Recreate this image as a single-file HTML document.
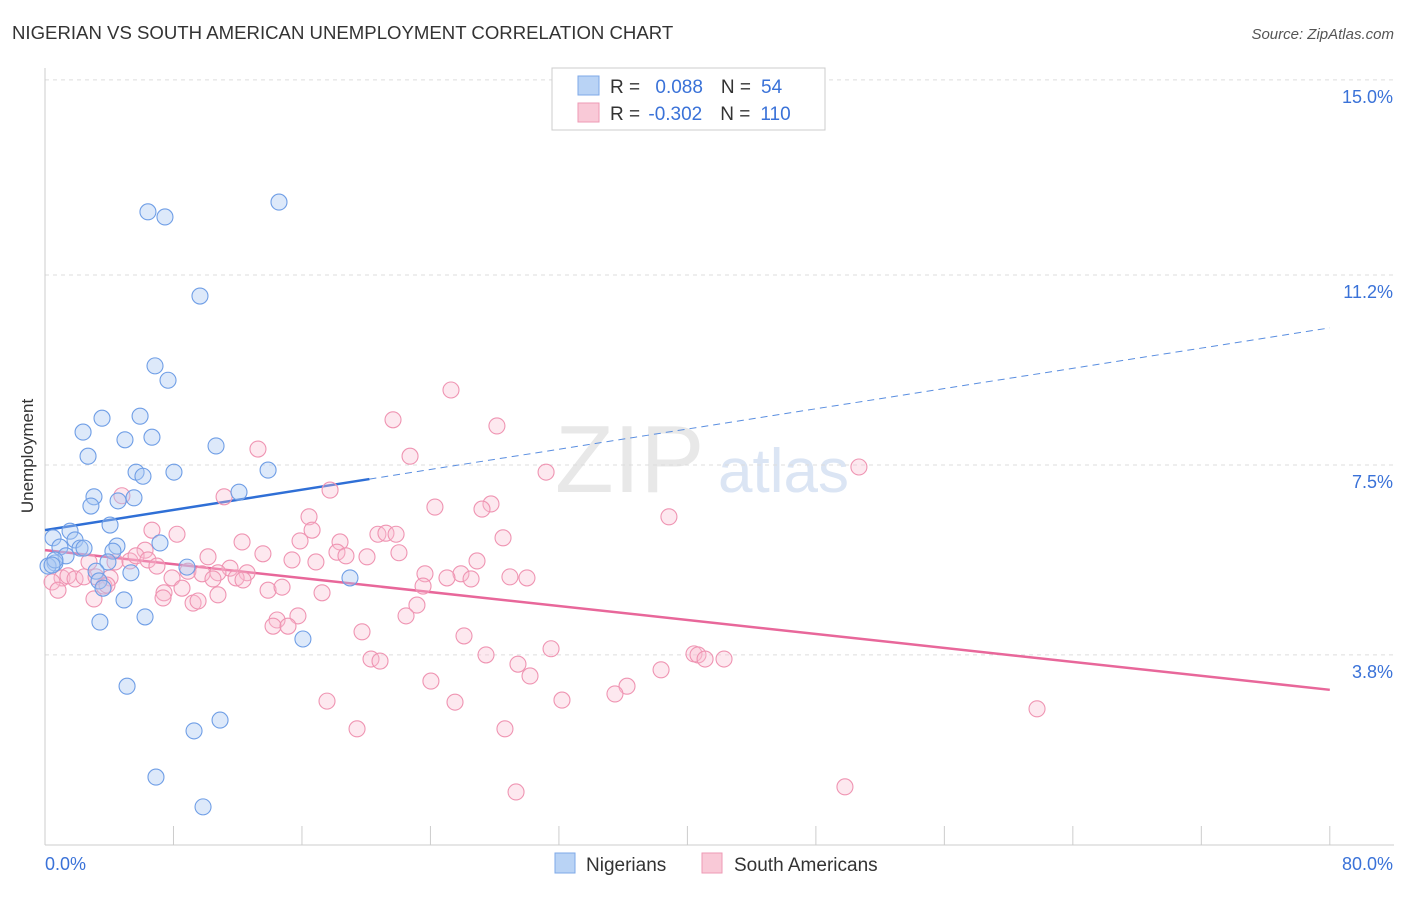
<!DOCTYPE html>
<html><head><meta charset="utf-8"><style>
body{margin:0;background:#fff;font-family:"Liberation Sans",sans-serif;}
svg text{font-family:"Liberation Sans",sans-serif;}
</style></head><body>
<svg id="chart" width="1406" height="892">
<text x="12" y="39" font-size="18.6" fill="#333">NIGERIAN VS SOUTH AMERICAN UNEMPLOYMENT CORRELATION CHART</text>
<text x="1394" y="39" font-size="15" fill="#555" font-style="italic" text-anchor="end">Source: ZipAtlas.com</text>
<text transform="translate(33,456) rotate(-90)" font-size="17" fill="#333" text-anchor="middle">Unemployment</text>
<g><text x="555" y="492" font-size="96" fill="#e8e8e8" font-family="Liberation Serif,serif">ZIP</text><text x="718" y="492" font-size="62" fill="#dbe5f4">atlas</text></g>
<g id="grid"></g><g id="axes"></g><g id="trends"></g><g id="pts"></g>
<g>
<rect x="552" y="68" width="273" height="62" fill="#fff" stroke="#ccc"/>
<rect x="578" y="76" width="21" height="19" fill="#b9d3f5" stroke="#7ea8e8"/>
<rect x="578" y="103" width="21" height="19" fill="#f9c9d7" stroke="#ee9ab4"/>
<text x="610" y="93" font-size="19" fill="#333">R = <tspan fill="#3a72d8" dx="10">0.088</tspan><tspan fill="#333" dx="18">N =</tspan><tspan fill="#3a72d8" dx="10">54</tspan></text>
<text x="610" y="120" font-size="19" fill="#333">R = <tspan fill="#3a72d8" dx="3">-0.302</tspan><tspan fill="#333" dx="18">N =</tspan><tspan fill="#3a72d8" dx="10">110</tspan></text>
</g>
<g>
<rect x="555" y="853" width="20" height="20" fill="#b9d3f5" stroke="#7ea8e8"/>
<text x="586" y="871" font-size="19" fill="#333">Nigerians</text>
<rect x="702" y="853" width="20" height="20" fill="#f9c9d7" stroke="#ee9ab4"/>
<text x="734" y="871" font-size="19" fill="#333">South Americans</text>
</g>
</svg>
<script>
const yTicks=[15.0,11.2,7.5,3.8];
const yTickLabels=["15.0%","11.2%","7.5%","3.8%"];
const xTickLabels=["0.0%","80.0%"];
const blueX=[6.41,7.47,14.57,9.65,6.85,7.66,3.55,5.92,2.37,4.98,6.66,2.68,10.65,5.67,6.10,8.03,13.89,12.08,3.05,2.86,4.55,5.54,4.05,1.56,0.50,1.87,0.93,2.18,2.43,4.48,4.23,7.16,1.31,0.62,0.19,3.92,3.18,5.35,8.84,18.99,3.36,3.61,4.92,6.23,3.42,16.06,5.11,9.28,10.90,6.91,9.84,0.62,0.44];
const blueY=[12.43,12.33,12.62,10.79,9.43,9.15,8.41,8.45,8.14,7.99,8.04,7.67,7.87,7.36,7.28,7.36,7.40,6.97,6.88,6.70,6.80,6.86,6.33,6.21,6.08,6.04,5.90,5.88,5.88,5.92,5.82,5.98,5.73,5.59,5.53,5.61,5.43,5.40,5.51,5.30,5.24,5.10,4.87,4.54,4.44,4.11,3.19,2.32,2.53,1.42,0.84,5.65,5.55];
const pinkX=[25.28,21.67,28.14,13.26,22.73,31.20,50.68,17.75,4.79,11.15,27.77,24.28,27.21,16.44,38.85,6.66,8.22,16.63,20.73,21.23,21.86,12.27,15.88,18.37,28.52,6.23,10.15,13.57,18.18,18.74,20.05,22.04,15.38,16.87,26.90,2.74,4.36,5.29,5.67,6.41,6.97,8.90,11.52,12.58,10.77,9.78,23.66,25.90,7.91,11.90,12.33,10.46,25.03,26.53,28.95,30.01,1.06,1.43,1.87,2.43,3.18,4.05,0.44,3.67,3.86,8.53,7.41,13.89,14.76,23.54,17.25,10.77,7.35,9.22,9.53,3.05,0.81,23.16,22.48,15.75,14.45,14.20,15.13,19.74,26.09,31.51,27.46,40.41,40.66,41.10,42.28,20.30,20.86,29.45,30.20,38.36,24.03,36.24,35.49,17.56,25.53,32.19,61.77,19.43,28.64,29.33,49.81];
const pinkY=[8.96,8.38,8.26,7.81,7.67,7.36,7.46,7.01,6.90,6.88,6.74,6.68,6.64,6.49,6.49,6.23,6.15,6.23,6.15,6.17,6.15,6.00,6.02,6.00,6.08,5.84,5.71,5.77,5.80,5.73,5.71,5.79,5.65,5.61,5.63,5.61,5.61,5.63,5.73,5.65,5.53,5.43,5.49,5.40,5.40,5.38,5.38,5.38,5.30,5.30,5.26,5.28,5.30,5.28,5.32,5.30,5.30,5.34,5.28,5.32,5.32,5.30,5.22,5.14,5.16,5.10,5.01,5.06,5.12,5.14,5.01,4.97,4.91,4.81,4.85,4.89,5.06,4.77,4.56,4.56,4.48,4.36,4.36,4.25,4.17,3.92,3.80,3.82,3.80,3.72,3.72,3.72,3.68,3.62,3.39,3.51,3.29,3.19,3.04,2.90,2.88,2.92,2.75,2.36,2.36,1.13,1.23];
const blueTrend=[6.23,10.17];
const pinkTrend=[5.84,3.12];
const NS="http://www.w3.org/2000/svg";
const X=v=>45+v*16.06, Y=v=>850-v*51.34;
function mk(tag,attrs,parent){const e=document.createElementNS(NS,tag);for(const k in attrs)e.setAttribute(k,attrs[k]);document.getElementById(parent).appendChild(e);return e;}
yTicks.forEach((t,i)=>{
 const g=mk('line',{x1:45,x2:1394,y1:Y(t),y2:Y(t),stroke:'#ddd','stroke-dasharray':'4,4'},'grid');
 
 
 const l=mk('text',{x:1393,y:Y(t)+23,'font-size':18,fill:'#3a72d8','text-anchor':'end'},'grid');
 l.textContent=yTickLabels[i];
 
 
});
const ax=mk('line',{x1:45,x2:1394,y1:845,y2:845,stroke:'#ccc'},'axes');


const ay=mk('line',{x1:45,x2:45,y1:68,y2:845,stroke:'#ccc'},'axes');


for(let i=0;i<=10;i++){const t=mk('line',{x1:X(i*8),x2:X(i*8),y1:826,y2:845,stroke:'#ccc'},'axes');
 
 }
[[0,'start',45],[80,'end',1393]].forEach((a,i)=>{const l=mk('text',{x:a[2],y:870,'font-size':18,fill:'#3a72d8','text-anchor':a[1]},'axes');l.textContent=xTickLabels[i];
 
 });
const bs=20.2, bm=blueTrend[0]+(blueTrend[1]-blueTrend[0])*bs/80;
const b1=mk('line',{x1:X(0),y1:Y(blueTrend[0]),x2:X(bs),y2:Y(bm),stroke:'#2f6fd6','stroke-width':2.5},'trends');


const b2=mk('line',{x1:X(bs),y1:Y(bm),x2:X(80),y2:Y(blueTrend[1]),stroke:'#5a8ee0','stroke-width':1,'stroke-dasharray':'7,5'},'trends');


const p1=mk('line',{x1:X(0),y1:Y(pinkTrend[0]),x2:X(80),y2:Y(pinkTrend[1]),stroke:'#e8679a','stroke-width':2.5},'trends');


pinkX.forEach((x,i)=>{const c=mk('circle',{cx:X(x),cy:Y(pinkY[i]),r:8,fill:'rgba(248,190,208,0.35)',stroke:'#ef94b2','stroke-width':1.1},'pts');
 
 });
blueX.forEach((x,i)=>{const c=mk('circle',{cx:X(x),cy:Y(blueY[i]),r:8,fill:'rgba(170,200,243,0.4)',stroke:'#6f9ee6','stroke-width':1.1},'pts');
 
 });
</script>
</body></html>
